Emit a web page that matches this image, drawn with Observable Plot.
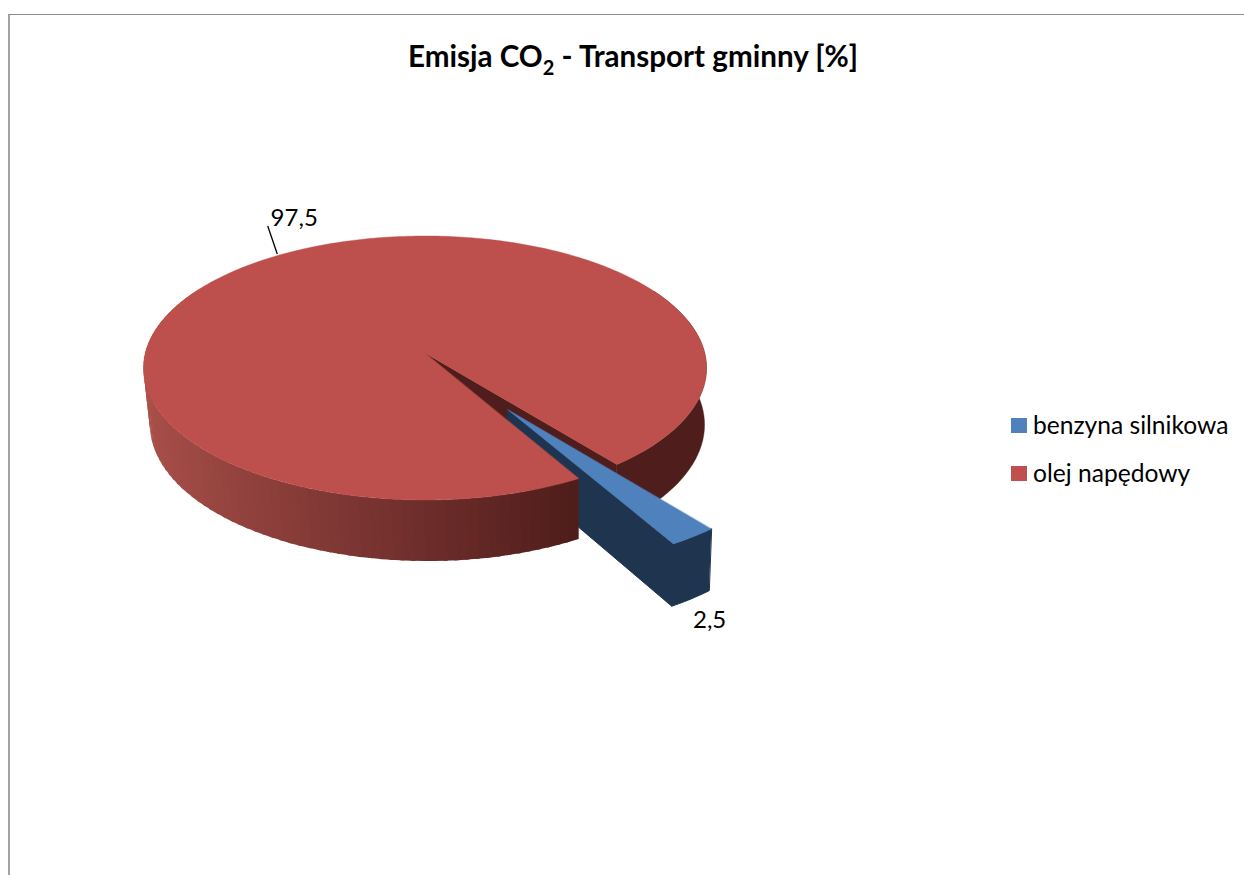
<!DOCTYPE html>
<html lang="pl">
<head>
<meta charset="utf-8">
<title>Emisja CO2 - Transport gminny [%]</title>
<script src="https://cdn.jsdelivr.net/npm/d3@7"></script>
<script src="https://cdn.jsdelivr.net/npm/@observablehq/plot@0.6"></script>
<style>
  html, body { margin: 0; padding: 0; background: #fff; overflow: hidden; }
  #page { position: relative; width: 1244px; height: 875px; overflow: hidden; font-family: Lato, "Open Sans", sans-serif; color: #000; }
  #page svg { position: absolute; left: 0; top: 0; }
  #frame { position: absolute; left: 8px; top: 14px; width: 1300px; height: 900px; border-left: 2px solid #a3a3a3; border-top: 1.5px solid #8c8c8c; }
  #title { position: absolute; left: 408px; top: 40px; width: 480px; font-weight: 700; font-size: 29.6px; line-height: 32px; white-space: nowrap; }
  #title sub { font-size: 20px; line-height: 0; vertical-align: -8px; }
  #legend { position: absolute; left: 1011px; top: 410px; font-size: 24.6px; }
  .item { position: absolute; left: 0; height: 30px; line-height: 30px; white-space: nowrap; }
  .item i { position: absolute; left: 0; top: 8px; width: 16px; height: 15px; }
  .item span { position: absolute; left: 22px; top: 0; }
</style>
</head>
<body>
<div id="page"><div id="frame"></div></div>
<script>
// Chart data
const categories = ["benzyna silnikowa", "olej napędowy"];
const values = [2.5, 97.5];
const labels = ["2,5", "97,5"];
const topColors = ["#4f81bd", "#bd4f4c"];
const legendColors = ["#4f81bd", "#c0504d"];
const sideColor = ["#1f344f", "#4f1e1c"];
const chartTitle = ["Emisja CO", "2", " - Transport gminny [%]"];

// View of the tilted 3D pie
const startAngle = 141.3;     // clockwise from 12 o'clock
const explode = 0.5;          // blue slice pulled out, in radii
const blueRadius = 0.97;
const persp = 0.1136, pinch = 0.015, depth = 0.439, skew = 0.008;
const shade = d3.scaleLinear().domain([-1, 0.5]).range(["#ab504b", "#4e1c1a"]).clamp(true);

const project = (u, v, z = 0) => {
  const w = 1 - persp * v + pinch * z;
  return {x: (u + skew * z) / w, y: (v + depth * z) / w};
};
const polar = (a, r = 1, dr = 0, dirA = 0, z = 0) => {
  const t = a * Math.PI / 180, d = dirA * Math.PI / 180;
  return project(r * Math.sin(t) + dr * Math.sin(d), -r * Math.cos(t) - dr * Math.cos(d), z);
};

// Angles of the slices, from the values
const total = d3.sum(values);
const sweep = values.map(v => v / total * 360);
const blue0 = startAngle, blue1 = startAngle + sweep[0];
const red0 = blue1, red1 = blue1 + sweep[1];
const blueMid = (blue0 + blue1) / 2, redMid = (red0 + red1) / 2;
const steps = (a, b, n) => d3.range(n + 1).map(i => a + (b - a) * i / n);

const band = (pts) => pts.map(([p, q]) => ({x1: p.x, y1: p.y, x2: q.x, y2: q.y}));

// Flat tops
const redTop = band(steps(red0, red1, 360).map(a => [polar(a), polar(0, 0)]));
const blueTop = band(steps(blue0, blue1, 12).map(a => [polar(a, blueRadius, explode, blueMid), polar(0, 0, explode, blueMid)]));

// Walls: the shaded front wall is many strips, each one reaching a little under the next
const strips = (a, b, n, color) => {
  const out = [];
  const list = steps(a, b, n);
  for (let i = 0; i < n; i++) {
    const m = (list[i] + list[i + 1]) / 2;
    const fill = color(Math.sin(m * Math.PI / 180));
    for (const t of [list[i], list[i + 1] + 0.8]) {
      const p = polar(t), q = polar(t, 1, 0, 0, 1);
      out.push({s: i, fill, x1: p.x, y1: p.y, x2: q.x, y2: q.y});
    }
  }
  return out;
};
const redFrontWall = strips(red0, 300, 75, shade);
const redRightWall = band(steps(60, blue0, 40).map(a => [polar(a), polar(a, 1, 0, 0, 1)]));
const redCutWall = band([[polar(blue0), polar(blue0, 1, 0, 0, 1)], [polar(0, 0), polar(0, 0, 0, 0, 1)]]);
const blueSideWall = band([
  [polar(0, 0, explode, blueMid), polar(0, 0, explode, blueMid, 1)],
  [polar(blue1, blueRadius, explode, blueMid), polar(blue1, blueRadius, explode, blueMid, 1)]
]);
const blueOuterWall = band(steps(blue0, blue1, 12).map(a => [polar(a, blueRadius, explode, blueMid), polar(a, blueRadius, explode, blueMid, 1)]));

// Data labels and leader line
const redAnchor = polar(redMid);
const redLeaderEnd = polar(redMid, 1.06, 0, 0, -0.42);
const blueAnchor = polar(blueMid, blueRadius, explode, blueMid, 1);
const leader = [{x1: redAnchor.x, y1: redAnchor.y, x2: redLeaderEnd.x, y2: redLeaderEnd.y}];
const blueLabel = [{x: blueAnchor.x, y: blueAnchor.y, text: labels[0]}];
const redLabel = [{x: redLeaderEnd.x, y: redLeaderEnd.y, text: labels[1]}];

const area = (data, fill, extra = {}) => Plot.area(data, {x1: "x1", y1: "y1", x2: "x2", y2: "y2", fill, ...extra});
const solid = (data, fill, strokeWidth = 0.4) => area(data, fill, {stroke: fill, strokeWidth});
const labelText = (data, dx, dy) => Plot.text(data, {x: "x", y: "y", text: "text", dx, dy, fontSize: 24, fontFamily: "Lato, sans-serif", fill: "#000"});

const chart = Plot.plot({
  width: 1244, height: 875,
  margin: 0,
  style: {background: "transparent"},
  x: {axis: null, domain: [-1, 1], range: [145.3, 704.7]},
  y: {axis: null, domain: [-1, 1], range: [222.7, 483.3]},
  marks: [
    solid(redRightWall, sideColor[1]),
    solid(redCutWall, sideColor[1]),
    solid(blueSideWall, sideColor[0], 1),
    solid(blueOuterWall, sideColor[0], 1),
    area(redFrontWall, "fill", {z: "s"}),
    solid(redTop, topColors[1]),
    solid(blueTop, topColors[0]),
    Plot.link(leader, {x1: "x1", y1: "y1", x2: "x2", y2: "y2", dx: -4.5, dy: -1, stroke: "#000", strokeWidth: 1.3}),
    labelText(blueLabel, 18, 21),
    labelText(redLabel, 22, -9)
  ]
});

const page = document.getElementById("page");
page.appendChild(chart);

const title = document.createElement("div");
title.id = "title";
title.append(chartTitle[0]);
const sub = document.createElement("sub");
sub.textContent = chartTitle[1];
title.append(sub, chartTitle[2]);
page.appendChild(title);

const legend = document.createElement("div");
legend.id = "legend";
categories.forEach((c, i) => {
  const item = document.createElement("div");
  item.className = "item";
  item.style.top = (i * 48) + "px";
  const sw = document.createElement("i");
  sw.style.background = legendColors[i];
  const tx = document.createElement("span");
  tx.textContent = c;
  item.append(sw, tx);
  legend.appendChild(item);
});
page.appendChild(legend);
</script>
</body>
</html>
